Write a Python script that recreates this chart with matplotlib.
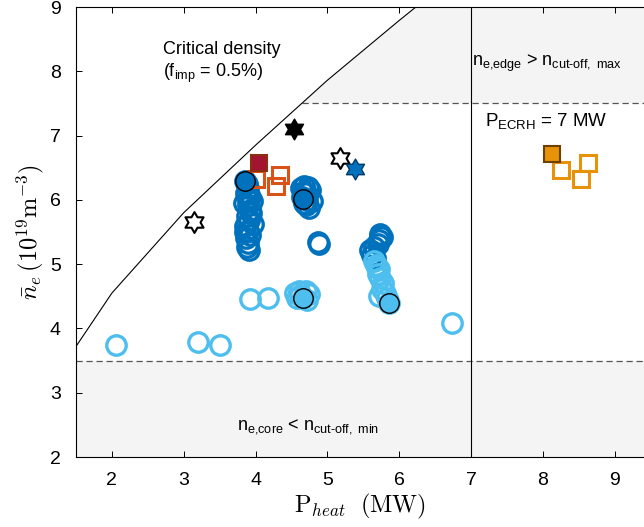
import numpy as np
import matplotlib
matplotlib.use("Agg")
import matplotlib.pyplot as plt
from matplotlib.path import Path

plt.rcParams['font.family'] = ['Liberation Sans', 'DejaVu Sans']
plt.rcParams['mathtext.fontset'] = 'custom'
plt.rcParams['mathtext.rm'] = 'Liberation Sans'
plt.rcParams['mathtext.it'] = 'Liberation Sans:italic'
plt.rcParams['mathtext.bf'] = 'Liberation Sans:bold'

# Critical density curve (f_imp = 0.5%)
crit_p = [1.5, 2.0, 3.0, 4.0, 5.0, 6.0, 6.5]
crit_n = [3.72, 4.55, 5.80, 6.85, 7.86, 8.79, 9.24]

# Scan points, dark blue group
dark_p = [3.86, 3.88, 3.90, 3.87, 3.92, 3.95, 3.90, 3.93, 3.88, 3.91, 3.86, 3.89,
          3.92, 3.87, 3.90, 3.88, 3.91, 3.94, 3.89, 3.85, 3.96, 3.84,
          4.63, 4.68, 4.73, 4.76, 4.70, 4.65, 4.72, 4.78, 4.70, 4.75, 4.68, 4.66,
          4.87, 4.88,
          5.74, 5.76, 5.72, 5.70, 5.65, 5.60, 5.62, 5.66, 5.73]
dark_n = [6.30, 6.25, 6.18, 6.10, 6.05, 5.98, 5.92, 5.85, 5.75, 5.68, 5.60, 5.52,
          5.45, 5.40, 5.33, 5.27, 5.22, 5.80, 6.00, 5.50, 5.62, 5.95,
          6.18, 6.22, 6.20, 6.15, 6.10, 6.05, 6.00, 5.98, 5.92, 5.88, 5.95, 6.12,
          5.35, 5.31,
          5.47, 5.42, 5.38, 5.32, 5.27, 5.22, 5.15, 5.10, 5.44]

# Scan points, light blue group
light_p = [2.06, 3.20, 3.51, 3.92, 4.18, 6.74,
           4.55, 4.60, 4.70, 4.74, 4.58, 4.66, 4.72, 4.62,
           5.65, 5.68, 5.72, 5.70, 5.74, 5.78, 5.76, 5.80, 5.72, 5.83, 5.86, 5.69]
light_n = [3.74, 3.79, 3.74, 4.46, 4.47, 4.08,
           4.55, 4.58, 4.58, 4.54, 4.47, 4.48, 4.45, 4.52,
           5.05, 4.98, 4.92, 4.85, 4.78, 4.70, 4.62, 4.55, 4.50, 4.47, 4.39, 4.95]

# Representative discharges
ref_dark_p = [3.86, 4.66]
ref_dark_n = [6.29, 6.02]
ref_light_p = [4.66, 5.86]
ref_light_n = [4.48, 4.39]

# Squares
red_open_p = [4.01, 4.34, 4.29]
red_open_n = [6.32, 6.39, 6.21]
red_fill_p = [4.05]
red_fill_n = [6.57]
orange_open_p = [8.25, 8.53, 8.63]
orange_open_n = [6.47, 6.32, 6.57]
orange_fill_p = [8.13]
orange_fill_n = [6.71]

# Hexagrams
star_black_p = [4.53]
star_black_n = [7.11]
star_white_p = [3.15, 5.18]
star_white_n = [5.65, 6.65]
star_blue_p = [5.38]
star_blue_n = [6.48]

x_min, x_max = 1.5, 9.41
y_min, y_max = 2, 9
n_low, n_high = 3.5, 7.5
p_ecrh = 7

blue = '#0072BD'
lblue = '#4DBEEE'
hexagram = Path.unit_regular_star(6, innerCircle=0.577)

fig = plt.figure(figsize=(6.44, 5.27), dpi=100)
ax = fig.add_axes([76/644, 70/527, 568/644, 450/527])

# shaded regions
ax.fill_between([x_min, x_max], y_min, n_low, color='#f4f4f4', zorder=0, lw=0)
pp = np.linspace(crit_p[0], crit_p[-1], 400)
nn = np.interp(pp, crit_p, crit_n)
p_cross = np.interp(n_high, crit_n, crit_p)
sel = pp >= p_cross
poly_x = np.concatenate([[p_cross], pp[sel], [x_max, x_max]])
poly_y = np.concatenate([[n_high], nn[sel], [nn[sel][-1], n_high]])
ax.fill(poly_x, poly_y, color='#f4f4f4', zorder=0, lw=0)

ax.axhline(n_low, color='#555555', lw=0.9, ls=(0, (5, 3)), zorder=1)
ax.plot([p_cross, x_max], [n_high, n_high], color='#555555', lw=0.9, ls=(0, (5, 3)), zorder=1)
ax.axvline(p_ecrh, color='k', lw=0.8, zorder=1)
ax.plot(crit_p, crit_n, color='k', lw=0.8, zorder=1)

ms = 14
mew = 2.4
ax.plot(dark_p, dark_n, 'o', ms=ms, mfc='none', mec=blue, mew=mew, zorder=3)
ax.plot(light_p, light_n, 'o', ms=ms, mfc='none', mec=lblue, mew=mew, zorder=3)
ax.plot(ref_dark_p, ref_dark_n, 'o', ms=ms, mfc=blue, mec='k', mew=1.0, zorder=5)
ax.plot(ref_light_p, ref_light_n, 'o', ms=ms, mfc=lblue, mec='k', mew=1.0, zorder=5)

ax.plot(red_open_p, red_open_n, 's', ms=11, mfc='none', mec='#D95319', mew=2.2, zorder=4)
ax.plot(red_fill_p, red_fill_n, 's', ms=11, mfc='#A2142F', mec='#8a3010', mew=1.5, zorder=5)
ax.plot(orange_open_p, orange_open_n, 's', ms=11, mfc='none', mec='#E8920A', mew=2.2, zorder=4)
ax.plot(orange_fill_p, orange_fill_n, 's', ms=11, mfc='#E8920A', mec='#6b4000', mew=1.5, zorder=5)

ax.plot(star_black_p, star_black_n, marker=hexagram, ls='none', ms=15, mfc='k', mec='k', mew=1.0, zorder=5)
ax.plot(star_white_p, star_white_n, marker=hexagram, ls='none', ms=15, mfc='white', mec='k', mew=1.5, zorder=5)
ax.plot(star_blue_p, star_blue_n, marker=hexagram, ls='none', ms=15, mfc=blue, mec='#003a66', mew=1.0, zorder=5)

# annotations
fs = 13
ax.text(2.71, 8.27, 'Critical density', fontsize=fs)
ax.text(2.71, 7.91, r'(f$_{\mathrm{imp}}$ = 0.5%)', fontsize=fs)
ax.text(7.02, 8.08, r'n$_{\mathrm{e{,}edge}}$ > n$_{\mathrm{cut‐off,\ max}}$', fontsize=fs)
ax.text(7.20, 7.15, r'P$_{\mathrm{ECRH}}$ = 7 MW', fontsize=fs + 0.5)
ax.text(3.74, 2.42, r'n$_{\mathrm{e{,}core}}$ < n$_{\mathrm{cut‐off,\ min}}$', fontsize=fs)

ax.set_xlim(x_min, x_max)
ax.set_ylim(y_min, y_max)
ax.set_xticks(range(2, 10))
ax.set_yticks(range(2, 10))
ax.tick_params(direction='in', length=4, width=0.7, labelsize=14, top=True, right=False)
ax.tick_params(axis='x', pad=11)
ax.tick_params(axis='y', pad=11)
ax.spines['right'].set_visible(False)
for s in ['left', 'top', 'bottom']:
    ax.spines[s].set_linewidth(0.8)

ax.set_xlabel(r'$\mathrm{P}_{heat}\ \ \mathrm{(MW)}$', fontsize=17.5, math_fontfamily='cm', labelpad=2)
ax.set_ylabel(r'$\bar{n}_e\,(10^{19}\mathrm{m}^{-3})$', fontsize=17.5, math_fontfamily='cm', labelpad=3)

fig.savefig('out.png', dpi=100)
